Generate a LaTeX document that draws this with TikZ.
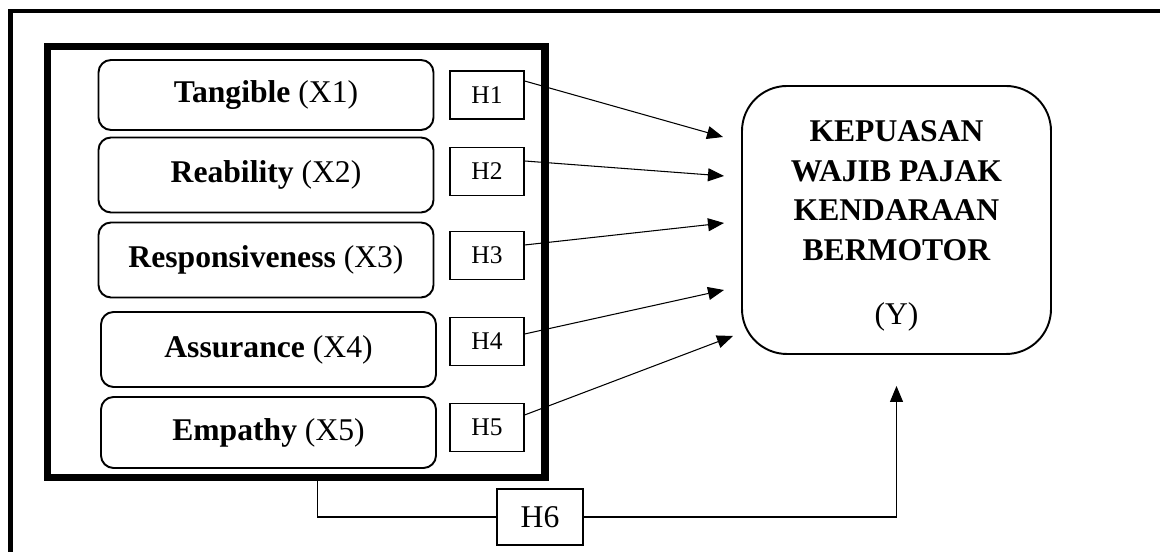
\documentclass[tikz,border=0pt]{standalone}
\usepackage{fontspec}
\setmainfont{Liberation Serif}
\usepackage{tikz}
\usetikzlibrary{arrows.meta,positioning}

\begin{document}
\begin{tikzpicture}[
        dimbox/.style = {draw, rounded corners = 0.25cm, line width = 1.1pt, minimum width = 6.7cm, minimum height = 1.5cm, font = \fontsize{18}{22}\selectfont},
        hbox/.style = {draw, line width = 0.7pt, minimum width = 1.48cm, minimum height = 0.96cm, inner sep = 0pt, font = \fontsize{14.5}{17}\selectfont},
        link/.style = {line width = 0.6pt, -{Triangle[length = 0.32cm, width = 0.26cm]}}
    ]
        \clip (0,0) rectangle (23.2,11.04);
        \path [draw, line width = 2.8pt] (0.21,-1) |- (24,10.82);
        \node (grp) at (5.925,5.8) [draw, line width = 4pt, minimum width = 9.95cm, minimum height = 8.62cm] {};
        % dimensions of service quality
        \node (x1) at (5.32,9.14) [dimbox, minimum height = 1.4cm] {\textbf{Tangible} (X1)};
        \node (x2) at (5.32,7.54) [dimbox] {\textbf{Reability} (X2)};
        \node (x3) at (5.32,5.84) [dimbox] {\textbf{Responsiveness} (X3)};
        \node (x4) at (5.37,4.05) [dimbox] {\textbf{Assurance} (X4)};
        \node (x5) at (5.37,2.39) [dimbox, minimum height = 1.42cm] {\textbf{Empathy} (X5)};
        \node (h1) at (9.74,9.14) [hbox] {H1};
        \node (h2) at (9.74,7.61) [hbox] {H2};
        \node (h3) at (9.74,5.93) [hbox] {H3};
        \node (h4) at (9.74,4.21) [hbox] {H4};
        \node (h5) at (9.74,2.49) [hbox] {H5};
        \node (yy) at (17.93,6.64) [draw, rounded corners = 0.9cm, line width = 1.1pt, minimum width = 6.18cm, minimum height = 5.36cm, align = center, font = \fontsize{18}{22.5}\selectfont] {\rule{0pt}{0.66cm}\textbf{KEPUASAN}\\\textbf{WAJIB PAJAK}\\\textbf{KENDARAAN}\\\textbf{BERMOTOR}\\[0.49cm](Y)};
        \node (h6) at (10.8,0.7) [draw, line width = 1.1pt, minimum width = 1.72cm, minimum height = 1.12cm, font = \fontsize{18}{22}\selectfont] {H6};
        \coordinate (in1) at (14.46,8.30);
        \coordinate (in2) at (14.48,7.52);
        \coordinate (in3) at (14.48,6.58);
        \coordinate (in4) at (14.48,5.24);
        \coordinate (in5) at (14.66,4.32);
        \path [draw, link] ([yshift = 0.28cm]h1.east) -- (in1);
        \path [draw, link] ([yshift = 0.21cm]h2.east) -- (in2);
        \path [draw, link] ([yshift = 0.21cm]h3.east) -- (in3);
        \path [draw, link] ([yshift = 0.15cm]h4.east) -- (in4);
        \path [draw, link] ([yshift = 0.25cm]h5.east) -- (in5);
        % simultaneous effect
        \path [draw, line width = 0.6pt] ([xshift = 0.43cm]grp.south) |- (h6.west);
        \path [draw, link, shorten > = 0.62cm] (h6.east) -| (yy.south);
    \end{tikzpicture}
\end{document}
